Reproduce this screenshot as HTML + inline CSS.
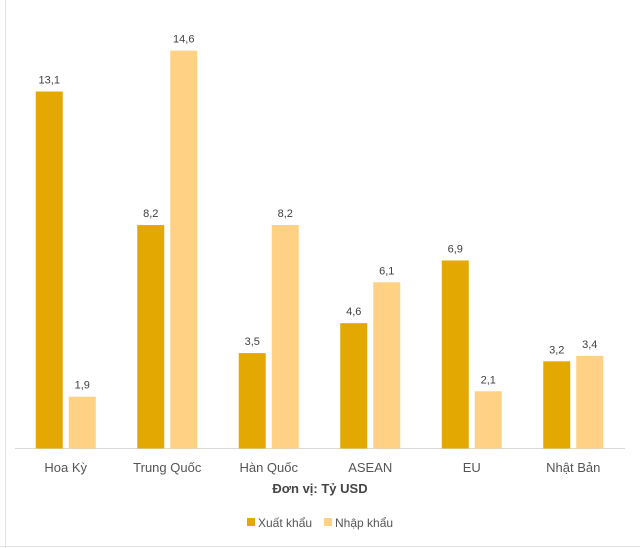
<!DOCTYPE html>
<html><head><meta charset="utf-8"><style>
html,body{margin:0;padding:0;background:#fff;}
svg{display:block;font-family:"Liberation Sans","DejaVu Sans",sans-serif;}
</style></head><body>
<svg id="chart" width="640" height="548">
<line x1="5.5" y1="0" x2="5.5" y2="548" stroke="#e3e3e3"/>
<line x1="0" y1="546.5" x2="640" y2="546.5" stroke="#e3e3e3"/>
<line x1="15" y1="448.5" x2="625" y2="448.5" stroke="#d9d9d9"/>
<g id="bars"></g>
<text x="320" y="493" text-anchor="middle" font-size="13" font-weight="bold" fill="#444">Đơn vị: Tỷ USD</text>
<g>
<rect x="247" y="518" width="8" height="8" fill="#E3A802"/>
<text x="258" y="527" font-size="12" fill="#555">Xuất khẩu</text>
<rect x="324" y="518" width="8" height="8" fill="#FFD184"/>
<text x="335" y="527" font-size="12" fill="#555">Nhập khẩu</text>
</g>
</svg>
<script>
const categories = ["Hoa Kỳ","Trung Quốc","Hàn Quốc","ASEAN","EU","Nhật Bản"];
const exportValues = [13.1,8.2,3.5,4.6,6.9,3.2];
const importValues = [1.9,14.6,8.2,6.1,2.1,3.4];
const seriesColors = ["#E3A802","#FFD184"];
const ns="http://www.w3.org/2000/svg";
const g=document.getElementById("bars");
const x0=15, catW=101.5, base=448.5, pxPer=27.25, barW=27, gap=6;
function y(v){return base - v*pxPer;}
function catX(i){return x0 + catW*i + catW/2;}
function fmt(v){return v.toFixed(1).replace(".",",");}
categories.forEach((c,i)=>{
  const cx=catX(i);
  [exportValues[i],importValues[i]].forEach((v,s)=>{
    const bx = s===0 ? cx-gap/2-barW : cx+gap/2;
    const r=document.createElementNS(ns,"rect");
    r.setAttribute("x",bx);r.setAttribute("y",y(v));
    r.setAttribute("width",barW);r.setAttribute("height",base-y(v));
    r.setAttribute("fill",seriesColors[s]);
    
    
    g.appendChild(r);
    const t=document.createElementNS(ns,"text");
    t.setAttribute("x",bx+barW/2);t.setAttribute("y",y(v)-8);
    t.setAttribute("text-anchor","middle");t.setAttribute("font-size","11");t.setAttribute("fill","#404040");
    t.textContent=fmt(v);
    
    
    g.appendChild(t);
  });
  const l=document.createElementNS(ns,"text");
  l.setAttribute("x",cx);l.setAttribute("y",472);
  l.setAttribute("text-anchor","middle");l.setAttribute("font-size","13");l.setAttribute("fill","#555");
  l.textContent=c;
  
  
  g.appendChild(l);
});
</script>
</body></html>
